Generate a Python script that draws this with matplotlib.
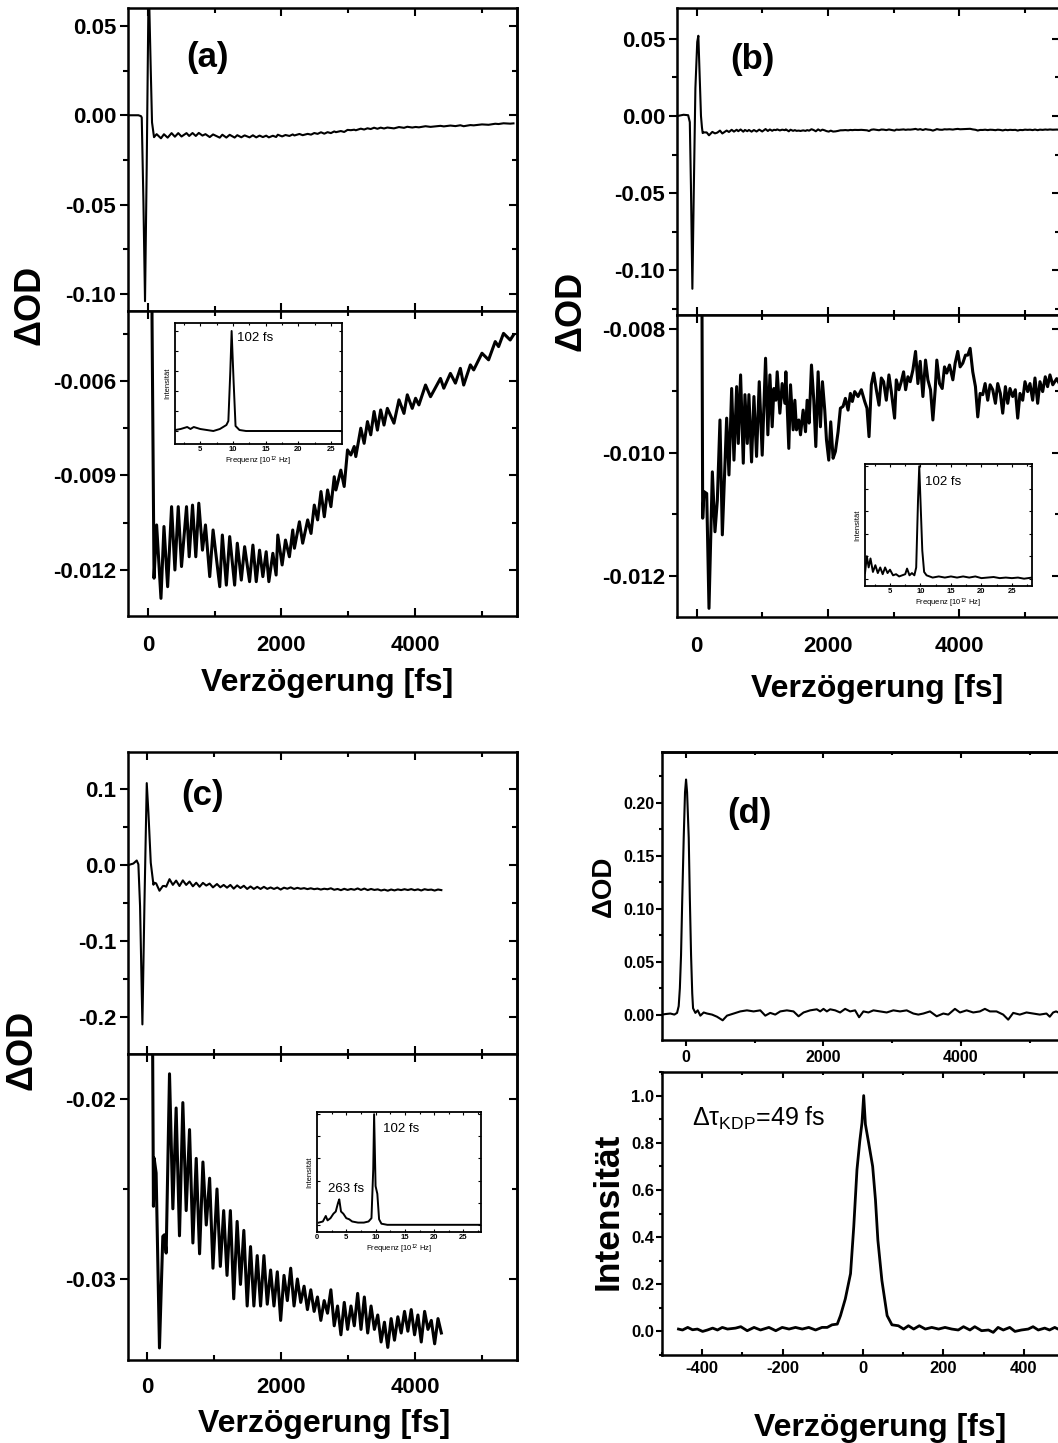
import numpy as np
import matplotlib
matplotlib.use("Agg")
import matplotlib.pyplot as plt
from matplotlib.ticker import MultipleLocator, FormatStrFormatter, NullFormatter

# ------------------------------------------------------------------ data
# (delay [fs], dOD)
A_TRACE = [(-277, 0.0), (-200, 0.0), (-144, 0.0), (-105, -0.0005), (-94, -0.0013), (-69, -0.048),
           (-45, -0.104), (-20, -0.030), (5, 0.059), (15, 0.068), (40, 0.027), (60, -0.004),
           (90, -0.01226), (129, -0.01057), (194, -0.01290), (239, -0.01062), (294, -0.01253),
           (353, -0.00999), (403, -0.01200), (453, -0.00999), (502, -0.01189), (577, -0.00999),
           (617, -0.01158), (667, -0.00994), (716, -0.01158), (761, -0.00988), (816, -0.01137),
           (861, -0.01057), (925, -0.01221), (975, -0.01073), (1075, -0.01253), (1114, -0.01089),
           (1174, -0.01248), (1224, -0.01094), (1298, -0.01248), (1338, -0.01115), (1398, -0.01232),
           (1448, -0.01126), (1522, -0.01237), (1572, -0.01121), (1622, -0.01237), (1672, -0.01137),
           (1721, -0.01221), (1771, -0.01142), (1811, -0.01237), (1871, -0.01147), (1920, -0.01216),
           (1945, -0.01089), (2010, -0.01184), (2060, -0.01105), (2119, -0.01158), (2169, -0.01073),
           (2194, -0.01131), (2269, -0.01047), (2318, -0.01115), (2393, -0.01041), (2443, -0.01084),
           (2492, -0.00994), (2542, -0.01041), (2592, -0.00951), (2642, -0.01031), (2691, -0.00946),
           (2741, -0.00999), (2791, -0.00904), (2816, -0.00946), (2890, -0.00883), (2940, -0.00935),
           (2990, -0.00819), (3040, -0.00835), (3090, -0.00808), (3114, -0.00840), (3189, -0.00750),
           (3239, -0.00798), (3289, -0.00729), (3338, -0.00771), (3388, -0.00697), (3438, -0.00756),
           (3487, -0.00692), (3537, -0.00740), (3587, -0.00687), (3686, -0.00734), (3761, -0.00660),
           (3836, -0.00703), (3886, -0.00644), (3960, -0.00687), (4010, -0.00655), (4060, -0.00676),
           (4159, -0.00613), (4234, -0.00650), (4383, -0.00592), (4433, -0.00623), (4532, -0.00576),
           (4607, -0.00607), (4681, -0.00560), (4731, -0.00613), (4831, -0.00549), (4881, -0.00565),
           (5005, -0.00512), (5104, -0.00533), (5204, -0.00475), (5254, -0.00491), (5328, -0.00449),
           (5428, -0.00470), (5477, -0.00454)]

B_TRACE = [(-290, 0.0), (-200, 0.0008), (-130, 0.0005), (-105, -0.004), (-88, -0.045), (-66, -0.112),
           (-45, -0.050), (-20, 0.018), (8, 0.048), (25, 0.052), (45, 0.025), (65, 0.0), (80, -0.0075),
           (91, -0.01106), (111, -0.01063), (152, -0.01066), (187, -0.01252), (238, -0.01031),
           (278, -0.01128), (314, -0.01077), (354, -0.00947), (390, -0.01133), (456, -0.00944),
           (491, -0.01036), (532, -0.00896), (567, -0.01012), (608, -0.00893), (633, -0.00985),
           (668, -0.00874), (709, -0.01017), (734, -0.00906), (770, -0.00985), (795, -0.00906),
           (835, -0.01015), (871, -0.00909), (911, -0.01006), (952, -0.00885), (997, -0.01004),
           (1048, -0.00847), (1083, -0.00971), (1114, -0.00874), (1149, -0.00958), (1175, -0.00896),
           (1205, -0.00915), (1225, -0.00869), (1266, -0.00936), (1301, -0.00888), (1342, -0.00920),
           (1357, -0.00869), (1402, -0.00993), (1428, -0.00890), (1468, -0.00963), (1494, -0.00915),
           (1519, -0.00963), (1554, -0.00947), (1580, -0.00971), (1620, -0.00931), (1656, -0.00966),
           (1681, -0.00915), (1711, -0.00952), (1747, -0.00858), (1782, -0.00915), (1813, -0.00990),
           (1848, -0.00869), (1883, -0.00958), (1914, -0.00885), (1949, -0.00931), (1975, -0.00979),
           (2010, -0.01012), (2040, -0.00950), (2076, -0.01009), (2111, -0.00998), (2152, -0.00966),
           (2187, -0.00928), (2228, -0.00925), (2263, -0.00912), (2304, -0.00931), (2339, -0.00904),
           (2369, -0.00917), (2405, -0.00901), (2456, -0.00909), (2506, -0.00898), (2557, -0.00917),
           (2592, -0.00928), (2623, -0.00974), (2658, -0.00890), (2694, -0.00871), (2734, -0.00898),
           (2775, -0.00923), (2810, -0.00879), (2845, -0.00885), (2886, -0.00915), (2926, -0.00874),
           (2962, -0.00901), (3012, -0.00944), (3038, -0.00882), (3078, -0.00898), (3114, -0.00885),
           (3149, -0.00869), (3180, -0.00898), (3215, -0.00877), (3250, -0.00885), (3291, -0.00866),
           (3331, -0.00836), (3367, -0.00888), (3402, -0.00852), (3443, -0.00909), (3483, -0.00850),
           (3519, -0.00882), (3559, -0.00898), (3595, -0.00947), (3630, -0.00898), (3655, -0.00850),
           (3696, -0.00888), (3737, -0.00896), (3772, -0.00861), (3807, -0.00871), (3848, -0.00858),
           (3899, -0.00882), (3934, -0.00855), (3974, -0.00836), (4010, -0.00861), (4050, -0.00855),
           (4091, -0.00842), (4126, -0.00842), (4162, -0.00831), (4202, -0.00869), (4243, -0.00893),
           (4278, -0.00942), (4314, -0.00904), (4354, -0.00906), (4390, -0.00888), (4430, -0.00915),
           (4466, -0.00890), (4506, -0.00898), (4547, -0.00920), (4582, -0.00888), (4622, -0.00904),
           (4658, -0.00936), (4699, -0.00893), (4734, -0.00920), (4769, -0.00896), (4810, -0.00909),
           (4850, -0.00898), (4886, -0.00944), (4921, -0.00904), (4962, -0.00915), (4997, -0.00885),
           (5038, -0.00901), (5073, -0.00888), (5114, -0.00915), (5149, -0.00879), (5190, -0.00920),
           (5225, -0.00885), (5266, -0.00901), (5306, -0.00877), (5341, -0.00893), (5377, -0.00874),
           (5420, -0.00890), (5480, -0.00880), (5530, -0.00890)]

C_TRACE = [(-285, 0.0), (-210, 0.002), (-160, 0.006), (-135, 0.001), (-110, -0.054), (-75, -0.210),
           (-45, -0.054), (-10, 0.108), (15, 0.069), (50, 0.003),
           (90, -0.02596), (100, -0.02328), (130, -0.02411), (180, -0.03383), (230, -0.02763),
           (255, -0.02754), (280, -0.02856), (330, -0.0186), (380, -0.0261), (429, -0.0205),
           (479, -0.0276), (529, -0.0202), (579, -0.0262), (629, -0.0217), (679, -0.0280),
           (729, -0.0233), (779, -0.0286), (829, -0.0235), (879, -0.0270), (929, -0.0244),
           (979, -0.0294), (1039, -0.0250), (1089, -0.0293), (1139, -0.0262), (1189, -0.0298),
           (1239, -0.0262), (1289, -0.0311), (1340, -0.0268), (1390, -0.0303), (1440, -0.0273),
           (1490, -0.0315), (1540, -0.0282), (1590, -0.0315), (1640, -0.0287), (1690, -0.0315),
           (1740, -0.0287), (1790, -0.0314), (1840, -0.0295), (1890, -0.0315), (1940, -0.0296),
           (1990, -0.0323), (2040, -0.0298), (2090, -0.0312), (2140, -0.0294), (2190, -0.0315),
           (2240, -0.0300), (2290, -0.0313), (2340, -0.0304), (2390, -0.0317), (2440, -0.0306),
           (2490, -0.0318), (2540, -0.0310), (2590, -0.0323), (2640, -0.0312), (2690, -0.0319),
           (2740, -0.0306), (2790, -0.0326), (2840, -0.0315), (2890, -0.0331), (2940, -0.0313),
           (2990, -0.0328), (3040, -0.0315), (3090, -0.0326), (3140, -0.0308), (3190, -0.0328),
           (3240, -0.0310), (3290, -0.0330), (3340, -0.0315), (3390, -0.0328), (3440, -0.0320),
           (3490, -0.0335), (3540, -0.0324), (3590, -0.0338), (3640, -0.0322), (3690, -0.0334),
           (3740, -0.0321), (3790, -0.0330), (3840, -0.0318), (3890, -0.0329), (3940, -0.0317),
           (3990, -0.0331), (4040, -0.0320), (4090, -0.0335), (4140, -0.0318), (4190, -0.0328),
           (4240, -0.0323), (4290, -0.0336), (4340, -0.0322), (4390, -0.0330)]

D_TRACE = [(-349, 0.0), (-300, 0.0005), (-228, 0.001), (-170, 0.0), (-131, 0.0016), (-107, 0.008),
           (-90, 0.025), (-73, 0.056), (-55, 0.110), (-34, 0.167), (-15, 0.210), (0, 0.222),
           (15, 0.210), (39, 0.167), (55, 0.110), (73, 0.056), (90, 0.020), (102, 0.006),
           (136, 0.0016), (170, 0.004), (208, -0.001), (257, 0.002), (305, 0.001), (378, 0.0),
           (450, -0.002), (533, -0.0054), (596, -0.001), (693, 0.001), (789, 0.003), (886, 0.004),
           (983, 0.003), (1080, 0.004), (1153, -0.001), (1225, 0.0016), (1298, 0.0), (1371, 0.003),
           (1467, 0.004), (1564, 0.003), (1637, -0.0016), (1710, 0.002), (1806, 0.004), (1903, 0.005),
           (1952, 0.003), (2000, 0.0054), (2049, 0.003), (2097, 0.005), (2170, 0.004), (2242, 0.002),
           (2315, 0.0054), (2388, 0.003), (2460, 0.004), (2518, -0.0025), (2581, 0.003), (2654, 0.002),
           (2727, 0.004), (2823, 0.003), (2920, 0.002), (3017, 0.004), (3114, 0.003), (3211, 0.004),
           (3308, 0.001), (3380, 0.0), (3453, 0.001), (3550, 0.003), (3647, -0.0016), (3744, 0.001),
           (3816, 0.0), (3913, 0.0054), (3986, 0.002), (4083, 0.004), (4179, 0.002), (4276, 0.003),
           (4349, 0.0054), (4422, 0.003), (4518, 0.003), (4615, 0.0), (4688, -0.0048), (4761, 0.0016),
           (4857, 0.0), (4954, 0.002), (5051, 0.001), (5148, 0.0), (5245, 0.001), (5293, -0.002),
           (5342, 0.002), (5385, 0.003), (5450, 0.001), (5500, 0.002)]

# autocorrelation (KDP), delay [fs] vs. normalised intensity
KDP_TRACE = [(-459, 0.010), (-449, 0.006), (-436, 0.017), (-424, 0.007), (-412, 0.010), (-399, 0.000),
             (-387, 0.006), (-374, 0.014), (-362, 0.006), (-350, 0.017), (-337, 0.010), (-317, 0.014),
             (-304, 0.020), (-288, 0.003), (-271, 0.017), (-255, 0.006), (-234, 0.017), (-217, 0.003),
             (-201, 0.017), (-184, 0.010), (-168, 0.017), (-151, 0.010), (-135, 0.017), (-118, 0.006),
             (-102, 0.017), (-89, 0.017), (-77, 0.028), (-64, 0.031), (-56, 0.067), (-44, 0.138),
             (-31, 0.245), (-23, 0.444), (-15, 0.686), (-8, 0.807), (-2.5, 0.885), (1.7, 1.000),
             (6, 0.878), (14, 0.800), (24, 0.700), (31, 0.558), (37, 0.387), (47, 0.216), (60, 0.067),
             (72, 0.028), (88, 0.024), (101, 0.010), (113, 0.024), (126, 0.010), (140, 0.024),
             (155, 0.010), (171, 0.017), (188, 0.010), (204, 0.017), (221, 0.010), (237, 0.006),
             (250, 0.020), (266, 0.006), (278, 0.020), (295, 0.003), (312, 0.006), (324, -0.004),
             (336, 0.017), (349, 0.006), (365, 0.017), (378, 0.000), (394, 0.006), (411, 0.010),
             (423, 0.020), (436, 0.006), (452, 0.014), (464, 0.006), (477, 0.017), (485, 0.010),
             (500, 0.012)]

# FFT spectra of the insets: frequency [10^12 Hz] vs. relative intensity
A_SPEC = [(1.2, 0.01), (2.0, 0.02), (3.0, 0.04), (3.5, 0.02), (4.0, 0.04), (5.0, 0.02), (6.0, 0.01),
          (7.0, 0.0), (8.0, 0.02), (9.0, 0.06), (9.3, 0.10), (9.6, 0.6), (9.8, 1.0), (10.1, 0.5),
          (10.4, 0.05), (11.0, 0.01), (12.0, 0.0), (15.0, 0.0), (20.0, 0.0), (26.7, 0.0)]
B_SPEC = [(0.9, 0.05), (1.2, 0.20), (1.5, 0.10), (1.8, 0.18), (2.2, 0.06), (2.6, 0.12), (3.0, 0.05),
          (3.4, 0.10), (3.8, 0.04), (4.2, 0.10), (4.6, 0.05), (5.0, 0.08), (5.5, 0.03), (6.0, 0.04),
          (6.5, 0.02), (7.0, 0.03), (7.5, 0.04), (7.8, 0.09), (8.2, 0.03), (8.6, 0.05), (9.0, 0.03),
          (9.3, 0.10), (9.6, 0.70), (9.8, 1.0), (10.0, 0.70), (10.3, 0.25), (10.6, 0.06), (11.0, 0.03),
          (12, 0.01), (13, 0.02), (14, 0.01), (15, 0.02), (16, 0.01), (17, 0.02), (18, 0.01),
          (19, 0.02), (20, 0.005), (21, 0.01), (22, 0.015), (23, 0.005), (24, 0.01), (25, 0.005),
          (26, 0.01), (27, 0.0), (28.3, 0.01)]
C_SPEC = [(0.3, 0.02), (1.0, 0.03), (1.5, 0.08), (1.8, 0.04), (2.3, 0.06), (2.8, 0.10), (3.2, 0.12),
          (3.6, 0.20), (3.8, 0.23), (4.1, 0.12), (4.5, 0.10), (5.0, 0.06), (5.5, 0.05), (6.0, 0.03),
          (7.0, 0.02), (8.0, 0.02), (8.8, 0.03), (9.3, 0.06), (9.6, 0.5), (9.75, 1.0), (10.0, 0.35),
          (10.3, 0.28), (10.6, 0.05), (11.0, 0.01), (12.0, 0.0), (20.0, 0.0), (28.0, 0.0)]

PANEL_LABELS = ["(a)", "(b)", "(c)", "(d)"]
PERIOD_LABEL = "102 fs"
LOW_PERIOD_LABEL = "263 fs"
X_LABEL = "Verzögerung [fs]"
Y_LABEL = "ΔOD"
KDP_LABEL = "Δτ$_{\\mathrm{KDP}}$=49 fs"

# ------------------------------------------------------------------ style
plt.rcParams['font.family'] = ['Liberation Sans', 'DejaVu Sans']
plt.rcParams['font.weight'] = 'bold'
plt.rcParams['axes.labelweight'] = 'bold'
plt.rcParams['axes.unicode_minus'] = False
plt.rcParams['mathtext.fontset'] = 'custom'
plt.rcParams['mathtext.rm'] = 'Liberation Sans:weight=normal'
plt.rcParams['mathtext.it'] = 'Liberation Sans:style=italic:weight=normal'
plt.rcParams['mathtext.bf'] = 'Liberation Sans:weight=bold'

W, H = 1058, 1443
fig = plt.figure(figsize=(W / 100, H / 100), dpi=100)


def fbox(l, t, r, b):
    return [l / W, 1 - b / H, (r - l) / W, (b - t) / H]


LW_SPINE = 1.8


def setup(ax, xmaj, xmin, ymaj, ymin, xfmt, yfmt, fs, show_x=True, xdir='in',
          xpad=13, ypad=3, maj_len=5.5, min_len=3.5):
    for s in ax.spines.values():
        s.set_linewidth(LW_SPINE)
    ax.xaxis.set_major_locator(MultipleLocator(xmaj))
    ax.xaxis.set_minor_locator(MultipleLocator(xmin))
    ax.yaxis.set_major_locator(MultipleLocator(ymaj))
    ax.yaxis.set_minor_locator(MultipleLocator(ymin))
    ax.xaxis.set_major_formatter(FormatStrFormatter(xfmt))
    ax.yaxis.set_major_formatter(FormatStrFormatter(yfmt))
    ax.tick_params(axis='x', which='both', direction=xdir, bottom=True,
                   top=(xdir == 'in'), labelbottom=show_x, pad=xpad, labelsize=fs, width=1.5)
    ax.tick_params(axis='y', which='both', direction='out', left=True, right=False,
                   pad=ypad, labelsize=fs, width=1.5)
    ax.tick_params(which='major', length=maj_len)
    ax.tick_params(which='minor', length=min_len)
    sec = ax.secondary_yaxis('right')
    sec.yaxis.set_major_locator(MultipleLocator(ymaj))
    sec.yaxis.set_minor_locator(MultipleLocator(ymin))
    sec.yaxis.set_major_formatter(NullFormatter())
    sec.tick_params(which='both', direction='in', width=1.5)
    sec.tick_params(which='major', length=maj_len)
    sec.tick_params(which='minor', length=min_len)
    sec.spines['right'].set_linewidth(LW_SPINE)
    if xdir != 'in':
        secx = ax.secondary_xaxis('top')
        secx.xaxis.set_major_locator(MultipleLocator(xmaj))
        secx.xaxis.set_minor_locator(MultipleLocator(xmin))
        secx.xaxis.set_major_formatter(NullFormatter())
        secx.tick_params(which='both', direction='in', width=1.5)
        secx.tick_params(which='major', length=maj_len)
        secx.tick_params(which='minor', length=min_len)
        secx.spines['top'].set_linewidth(LW_SPINE)


def split_panel(trace, first_zoom, top_box, bot_box, xlim, ylim_top, ylim_bot,
                ytop, ybot, fmt_top, fmt_bot, xpad):
    t, v = np.array(trace).T
    axt = fig.add_axes(fbox(*top_box))
    axt.plot(t, v, color='k', lw=1.5)
    axt.set_xlim(*xlim)
    axt.set_ylim(*ylim_top)
    setup(axt, 2000, 1000, ytop[0], ytop[1], '%d', fmt_top, 16, show_x=False, xpad=xpad)
    m = t >= first_zoom
    axb = fig.add_axes(fbox(*bot_box))
    axb.plot(t[m], v[m], color='k', lw=2.2)
    axb.set_xlim(*xlim)
    axb.set_ylim(*ylim_bot)
    setup(axb, 2000, 1000, ybot[0], ybot[1], '%d', fmt_bot, 16, xpad=xpad)
    return axt, axb


def inset(box, spec, xlim, ylim, texts):
    ax = fig.add_axes(fbox(*box))
    f, a = np.array(spec).T
    ax.plot(f, a, color='k', lw=1.4)
    ax.set_xlim(*xlim)
    ax.set_ylim(*ylim)
    for s in ax.spines.values():
        s.set_linewidth(1.3)
    ax.xaxis.set_major_locator(MultipleLocator(5))
    ax.xaxis.set_minor_locator(MultipleLocator(2.5))
    ax.yaxis.set_major_locator(MultipleLocator(0.2))
    ax.yaxis.set_major_formatter(NullFormatter())
    ax.tick_params(which='both', direction='in', top=True, right=True, labelsize=5.5,
                   pad=1.5, width=0.8)
    ax.tick_params(which='major', length=2.5)
    ax.tick_params(which='minor', length=1.5)
    ax.set_xlabel('Frequenz [10$^{12}$ Hz]', fontsize=5.5, fontweight='normal', labelpad=1)
    ax.set_ylabel('Intensität', fontsize=5.5, fontweight='normal', labelpad=1)
    for (x, y, s) in texts:
        ax.text(x, y, s, fontsize=9.5, fontweight='normal', va='center', ha='left')
    return ax


# (a)
split_panel(A_TRACE, 40, (128, 8, 517, 311), (128, 311, 517, 616), (-300, 5530),
            (-0.1095, 0.060), (-0.01346, -0.00378), (0.05, 0.025), (0.003, 0.0015),
            '%.2f', '%.3f', 14)
inset((175, 323, 342, 444), A_SPEC, (1.13, 26.7), (-0.13, 1.08), [(10.6, 0.93, PERIOD_LABEL)])

# (b)
split_panel(B_TRACE, 45, (677, 8, 1060, 315), (677, 315, 1060, 617), (-300, 5530),
            (-0.129, 0.070), (-0.01266, -0.00777), (0.05, 0.025), (0.002, 0.001),
            '%.2f', '%.3f', 14)
inset((865, 464, 1032, 586), B_SPEC, (0.9, 28.3), (-0.065, 1.02), [(10.8, 0.86, PERIOD_LABEL)])

# (c)
split_panel(C_TRACE, 40, (128, 752, 517, 1054), (128, 1054, 517, 1360), (-290, 5520),
            (-0.249, 0.149), (-0.0345, -0.0175), (0.1, 0.05), (0.01, 0.005),
            '%.1f', '%.2f', 12)
inset((317, 1112, 481, 1232), C_SPEC, (0.0, 28.0), (-0.065, 1.02),
      [(11.3, 0.866, PERIOD_LABEL), (1.9, 0.32, LOW_PERIOD_LABEL)])

# (d) top
t, v = np.array(D_TRACE).T
axd = fig.add_axes(fbox(662, 752, 1064, 1040))
axd.plot(t, v, color='k', lw=1.5)
axd.set_xlim(-350, 5500)
axd.set_ylim(-0.024, 0.248)
setup(axd, 2000, 1000, 0.05, 0.025, '%d', '%.2f', 11.5, xdir='out', xpad=3, ypad=1.5,
      maj_len=4, min_len=2.5)

# (d) bottom
t, v = np.array(KDP_TRACE).T
axk = fig.add_axes(fbox(662, 1072, 1064, 1355))
axk.plot(t, v, color='k', lw=2.0)
axk.set_xlim(-500, 500)
axk.set_ylim(-0.1, 1.1)
setup(axk, 200, 100, 0.2, 0.1, '%d', '%.1f', 12, xpad=4, ypad=1.5, maj_len=4, min_len=2.5)
fig.text(692 / W, 1 - 1118 / H, KDP_LABEL, fontsize=18, fontweight='normal',
         ha='left', va='center')

# labels
for (x, y, s) in [(207, 57, PANEL_LABELS[0]), (752, 59, PANEL_LABELS[1]),
                  (203, 796, PANEL_LABELS[2]), (749, 814, PANEL_LABELS[3])]:
    fig.text(x / W, 1 - y / H, s, fontsize=25, ha='center', va='center')

for (x, y, fs) in [(30, 305, 26), (571, 311, 26), (22, 1050, 26), (604, 886, 20)]:
    fig.text(x / W, 1 - y / H, Y_LABEL, fontsize=fs, rotation=90, ha='center', va='center')

fig.text(608 / W, 1 - 1211 / H, 'Intensität', fontsize=25.5, rotation=90, ha='center', va='center')

for (x, y) in [(327, 683), (877, 689), (324, 1424), (880, 1428)]:
    fig.text(x / W, 1 - y / H, X_LABEL, fontsize=23, ha='center', va='center')

fig.savefig('out.png', dpi=100)
